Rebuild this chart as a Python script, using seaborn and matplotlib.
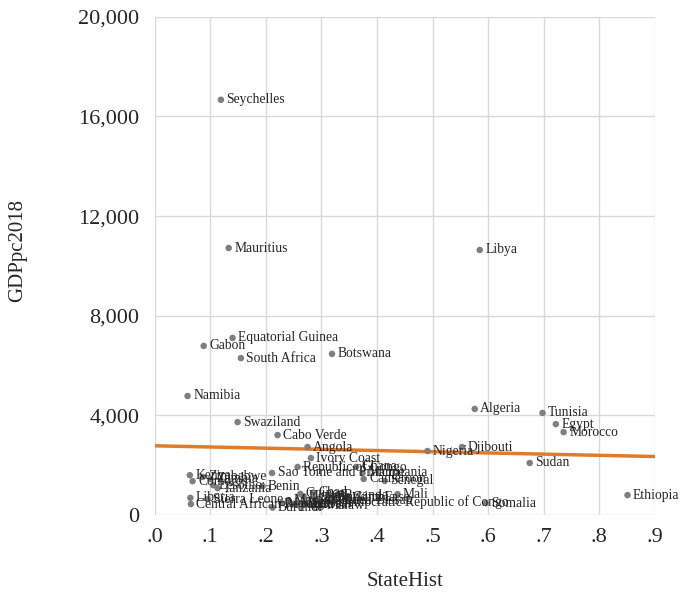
import pandas as pd
import seaborn as sns
import matplotlib.pyplot as plt
from matplotlib.ticker import FuncFormatter

# country labels, state history index and GDP per capita
countries = [
    "Seychelles", "Mauritius", "Libya", "Equatorial Guinea", "Gabon", "South Africa",
    "Botswana", "Namibia", "Algeria", "Tunisia", "Egypt", "Morocco", "Swaziland",
    "Cabo Verde", "Angola", "Ivory Coast", "Nigeria", "Djibouti", "Sudan", "Ethiopia",
    "Somalia", "Mali", "Ghana", "Mauritania", "Cameroon", "Senegal", "Republic of Congo",
    "Sao Tome and Principe", "Kenya", "Comoros", "Zimbabwe", "Zambia", "Tanzania", "Lesotho",
    "Liberia", "Sierra Leone", "Central African Republic", "Benin", "Madagascar",
    "Mozambique", "Burundi", "Guinea", "Uganda", "Rwanda", "Togo", "Malawi", "Niger",
    "Chad", "Burkina Faso", "Gambia", "Eritrea", "Guinea-Bissau",
    "Democratic Republic of Congo",
]
state_hist = [
    0.119, 0.133, 0.585, 0.140, 0.088, 0.155,
    0.319, 0.059, 0.576, 0.698, 0.722, 0.736, 0.149,
    0.221, 0.275, 0.281, 0.491, 0.553, 0.675, 0.851,
    0.596, 0.437, 0.362, 0.374, 0.376, 0.414, 0.257,
    0.211, 0.063, 0.068, 0.086, 0.100, 0.113, 0.105,
    0.064, 0.095, 0.065, 0.194, 0.228,
    0.240, 0.212, 0.262, 0.268, 0.330, 0.290, 0.300, 0.250,
    0.285, 0.318, 0.345, 0.270, 0.310,
    0.319,
]
gdp_pc = [
    16670, 10720, 10640, 7110, 6790, 6300,
    6470, 4780, 4260, 4100, 3650, 3330, 3730,
    3210, 2730, 2290, 2570, 2730, 2090, 800,
    480, 840, 1930, 1690, 1450, 1370, 1930,
    1690, 1600, 1360, 1530, 1450, 1080, 1200,
    690, 640, 440, 1160, 480,
    600, 300, 850, 750, 800, 650, 400, 450,
    900, 700, 700, 420, 600,
    520,
]

# linear trend line end points
trend_x = [0.0, 0.9]
trend_y = [2780, 2350]

df = pd.DataFrame({"Country": countries, "StateHist": state_hist, "GDPpc2018": gdp_pc})

sns.set_style("whitegrid")
plt.rcParams["font.family"] = ["Liberation Serif", "DejaVu Serif"]

fig = plt.figure(figsize=(6.82, 6.01), dpi=100)
ax = fig.add_axes([0.227, 0.143, 0.733, 0.829])

ax.plot(trend_x, trend_y, color="#E07B2A", linewidth=2.5, zorder=2)
sns.scatterplot(data=df, x="StateHist", y="GDPpc2018", color="#7f7f7f",
                s=22, edgecolor="none", ax=ax, zorder=3)

for _, row in df.iterrows():
    ax.annotate(row["Country"], (row["StateHist"], row["GDPpc2018"]),
                xytext=(4, 0), textcoords="offset points", va="center",
                fontsize=9.8, color="#262626", zorder=4)

ax.set_xlim(0, 0.9)
ax.set_ylim(0, 20000)
ax.set_xticks([i / 10 for i in range(10)])
ax.set_yticks(range(0, 20001, 4000))
ax.xaxis.set_major_formatter(FuncFormatter(lambda v, p: f"{v:.1f}".lstrip("0")))
ax.yaxis.set_major_formatter(FuncFormatter(lambda v, p: f"{int(v):,}"))
ax.tick_params(labelsize=16, colors="#262626", length=0)
ax.tick_params(axis="x", pad=9)
ax.tick_params(axis="y", pad=11)
ax.grid(True, color="#d9d9d9", linewidth=1)
for s in ax.spines.values():
    s.set_visible(False)

ax.set_xlabel("StateHist", fontsize=15, color="#262626", labelpad=18)
ax.set_ylabel("GDPpc2018", fontsize=15, color="#262626")
ax.yaxis.set_label_coords(-0.255, 0.53)

plt.savefig("out.png", dpi=100)
